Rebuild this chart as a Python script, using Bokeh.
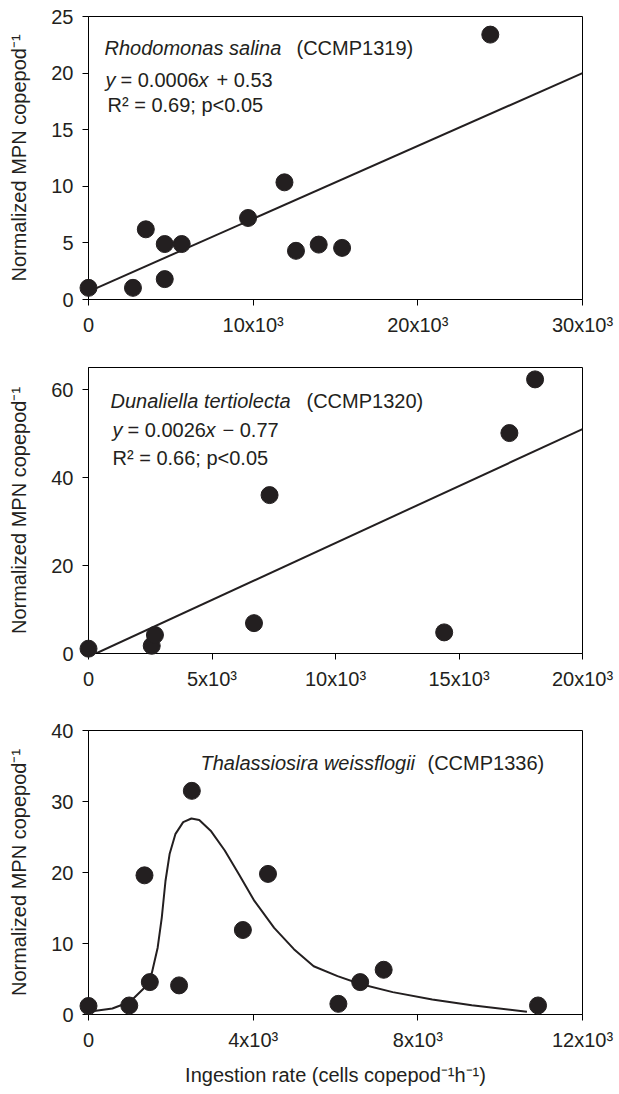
from bokeh.plotting import figure
from bokeh.layouts import column
from bokeh.models import Label, FixedTicker, Range1d
from bokeh.embed import file_html
from bokeh.resources import INLINE

INK = "#231f20"
FONT = "Liberation Sans"

# ---------------- data ----------------
# Panel A: Rhodomonas salina
rs_x = [0, 2700, 3480, 4630, 4630, 5660, 9690, 11900, 12600, 13980, 15400, 24400]
rs_y = [1.03, 1.03, 6.2, 4.9, 1.8, 4.9, 7.2, 10.35, 4.3, 4.85, 4.56, 23.4]
rs_fit_x = [0, 30000]
rs_fit_y = [0.7, 20.0]
rs_xticks = [0, 10000, 20000, 30000]
rs_xlabels = ["0", "10x10³", "20x10³", "30x10³"]
rs_yticks = [0, 5, 10, 15, 20, 25]

# Panel B: Dunaliella tertiolecta
dt_x = [0, 2560, 2690, 6700, 7330, 14400, 17040, 18080]
dt_y = [1.1, 1.75, 4.2, 6.9, 36.0, 4.8, 50.1, 62.3]
dt_fit_x = [300, 20000]
dt_fit_y = [0.0, 51.0]
dt_xticks = [0, 5000, 10000, 15000, 20000]
dt_xlabels = ["0", "5x10³", "10x10³", "15x10³", "20x10³"]
dt_yticks = [0, 20, 40, 60]

# Panel C: Thalassiosira weissflogii
tw_x = [0, 990, 1360, 1490, 2200, 2510, 3750, 4360, 6070, 6600, 7170, 10920]
tw_y = [1.2, 1.27, 19.6, 4.56, 4.1, 31.5, 11.9, 19.8, 1.5, 4.56, 6.3, 1.27]
tw_curve_x = [0, 580, 1010, 1340, 1540, 1680, 1780, 1870, 1970, 2110, 2300, 2500,
              2690, 2980, 3310, 3650, 4030, 4510, 4990, 5470, 6050, 6600, 7390,
              8350, 9310, 10650]
tw_curve_y = [0.38, 0.85, 1.79, 3.67, 5.88, 9.41, 13.65, 18.8, 22.6, 25.4, 27.1, 27.6,
              27.4, 25.8, 23.1, 19.8, 16.0, 12.2, 9.2, 6.8, 5.4, 4.3, 3.15,
              2.1, 1.3, 0.38]
tw_xticks = [0, 4000, 8000, 12000]
tw_xlabels = ["0", "4x10³", "8x10³", "12x10³"]
tw_yticks = [0, 10, 20, 30, 40]

YLABEL = "Normalized MPN copepod⁻¹"
XLABEL = "Ingestion rate (cells copepod⁻¹h⁻¹)"

W = 619
LEFT = 88
RIGHT = 582


def make_panel(xr, yr, frame_top, frame_h, bottom_border,
               xticks, xlabels, yticks, xlabel=None):
    h = frame_top + frame_h + bottom_border
    p = figure(width=W, height=h, x_range=Range1d(*xr), y_range=Range1d(*yr),
               output_backend="svg", toolbar_location=None, title=None,
               min_border_left=LEFT, min_border_right=W - RIGHT,
               min_border_top=frame_top, min_border_bottom=bottom_border)
    p.grid.visible = False
    p.outline_line_color = "black"
    p.outline_line_width = 1
    p.outline_line_alpha = 1
    p.background_fill_color = "white"
    p.border_fill_color = "white"
    for ax in (p.xaxis[0], p.yaxis[0]):
        ax.axis_line_color = "black"
        ax.major_tick_line_color = "black"
        ax.minor_tick_line_color = None
        ax.major_tick_in = 0
        ax.major_tick_out = 6
        ax.major_label_text_font = FONT
        ax.major_label_text_font_size = "20px"
        ax.major_label_text_color = INK
        ax.axis_label_text_font = FONT
        ax.axis_label_text_font_size = "20px"
        ax.axis_label_text_font_style = "normal"
        ax.axis_label_text_color = INK
    p.xaxis[0].ticker = FixedTicker(ticks=xticks)
    p.xaxis[0].major_label_overrides = {t: l for t, l in zip(xticks, xlabels)}
    p.xaxis[0].major_label_standoff = 8
    p.yaxis[0].ticker = FixedTicker(ticks=yticks)
    p.yaxis[0].major_label_standoff = 9
    p.yaxis[0].axis_label = YLABEL
    p.yaxis[0].axis_label_standoff = 18
    if xlabel:
        p.xaxis[0].axis_label = xlabel
        p.xaxis[0].axis_label_standoff = 10
    return p


def add_text(p, geom, px, py, text, italic=False):
    left, right, top, bottom = geom
    x0, x1 = p.x_range.start, p.x_range.end
    y0, y1 = p.y_range.start, p.y_range.end
    x = x0 + (px - left) / (right - left) * (x1 - x0)
    y = y0 + (bottom - py) / (bottom - top) * (y1 - y0)
    p.add_layout(Label(x=x, y=y, text=text, text_font=FONT, text_font_size="20px",
                       text_font_style="italic" if italic else "normal",
                       text_baseline="middle", text_align="left", text_color=INK))


# ---- Panel A ---- page y: figure 0..340, frame 16..299
p1 = make_panel((0, 30000), (0, 25), 16, 283, 41,
                rs_xticks, rs_xlabels, rs_yticks)
p1.line(rs_fit_x, rs_fit_y, line_width=2, color=INK)
p1.scatter(rs_x, rs_y, size=17, color=INK, level="overlay")
g1 = (LEFT, RIGHT, 16, 299)
add_text(p1, g1, 104, 47, "Rhodomonas salina", True)
add_text(p1, g1, 296, 47, "(CCMP1319)")
add_text(p1, g1, 105, 79, "y", True)
add_text(p1, g1, 120, 79, "= 0.0006")
add_text(p1, g1, 198, 79, "x", True)
add_text(p1, g1, 216, 79, "+ 0.53")
add_text(p1, g1, 107, 104, "R² = 0.69; p<0.05")

# ---- Panel B ---- page y: figure 340..700, frame 367..653
p2 = make_panel((0, 20000), (0, 65), 27, 286, 47,
                dt_xticks, dt_xlabels, dt_yticks)
p2.line(dt_fit_x, dt_fit_y, line_width=2, color=INK)
p2.scatter(dt_x, dt_y, size=17, color=INK, level="overlay")
g2 = (LEFT, RIGHT, 367, 653)
add_text(p2, g2, 110, 400, "Dunaliella tertiolecta", True)
add_text(p2, g2, 306, 400, "(CCMP1320)")
add_text(p2, g2, 112, 429, "y", True)
add_text(p2, g2, 127, 429, "= 0.0026")
add_text(p2, g2, 205, 429, "x", True)
add_text(p2, g2, 222, 429, "− 0.77")
add_text(p2, g2, 112, 457, "R² = 0.66; p<0.05")

# ---- Panel C ---- page y: figure 700..1094, frame 730..1014
p3 = make_panel((0, 12000), (0, 40), 30, 284, 80,
                tw_xticks, tw_xlabels, tw_yticks, xlabel=XLABEL)
p3.line(tw_curve_x, tw_curve_y, line_width=2, color=INK)
p3.scatter(tw_x, tw_y, size=17, color=INK, level="overlay")
g3 = (LEFT, RIGHT, 730, 1014)
add_text(p3, g3, 200, 762, "Thalassiosira weissflogii", True)
add_text(p3, g3, 427, 762, "(CCMP1336)")

layout = column(p1, p2, p3, spacing=0)

open("out.html", "w").write(file_html(layout, INLINE))
